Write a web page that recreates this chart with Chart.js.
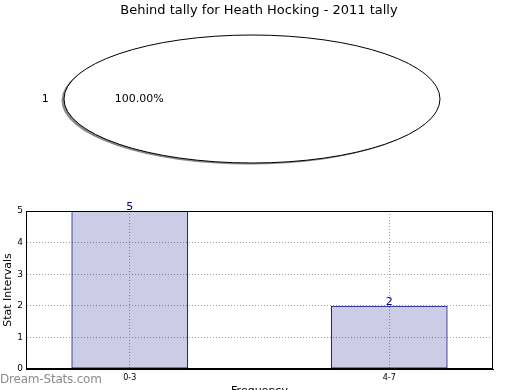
<!DOCTYPE html>
<html>
<head>
<meta charset="utf-8">
<script src="https://cdn.jsdelivr.net/npm/chart.js@4/dist/chart.umd.min.js"></script>
<style>
  html, body { margin: 0; padding: 0; background: #fff; overflow: hidden; }
  body { width: 520px; height: 390px; position: relative; font-family: "DejaVu Sans", sans-serif; }
  #title { position: absolute; left: -1px; top: 2px; width: 520px; text-align: center; font-size: 13px; color: #000; }
  #pieWrap { position: absolute; left: 0; top: 0; width: 520px; height: 180px; }
  #barWrap { position: absolute; left: 0; top: 195px; width: 520px; height: 204px; }
  #mark { position: absolute; left: 0; top: 372px; font-size: 12px; color: #8c8c8c; letter-spacing: -0.2px; }
</style>
</head>
<body>
<div id="pieWrap"><canvas id="pieChart"></canvas></div>
<div id="barWrap"><canvas id="barChart"></canvas></div>
<div id="title"></div>
<div id="mark">Dream-Stats.com</div>
<script>
const chartTitle = 'Behind tally for Heath Hocking - 2011 tally';
const pieLabels = ['1'];
const pieValues = [1];

const barLabels = ['0-3', '4-7'];
const barValues = [5, 2];
const yTicks = [0, 1, 2, 3, 4, 5];

const font = '"DejaVu Sans", sans-serif';
const stretch = 188 / 64; // matplotlib's pie is squashed into an ellipse

document.getElementById('title').textContent = chartTitle;

// draw the pie as an ellipse with a shadow, plus its labels
const ellipsePie = {
    id: 'ellipsePie',
    beforeDatasetsDraw(chart) {
        const arc = chart.getDatasetMeta(0).data[0];
        const ctx = chart.ctx;
        const r = arc.outerRadius;
        ctx.save();
        ctx.fillStyle = '#8a8a8a';
        ctx.beginPath();
        ctx.ellipse(arc.x - 2.5, arc.y + 1.5, r * stretch, r, 0, 0, Math.PI * 2);
        ctx.fill();
        ctx.translate(arc.x, arc.y);
        ctx.scale(stretch, 1);
        ctx.translate(-arc.x, -arc.y);
    },
    afterDatasetsDraw(chart) {
        const ctx = chart.ctx;
        ctx.restore();
        const arc = chart.getDatasetMeta(0).data[0];
        const r = arc.outerRadius;
        ctx.save();
        ctx.strokeStyle = '#000';
        ctx.lineWidth = 1;
        ctx.beginPath();
        ctx.ellipse(arc.x, arc.y, r * stretch, r, 0, 0, Math.PI * 2);
        ctx.stroke();

        const total = pieValues.reduce((a, b) => a + b, 0);
        ctx.fillStyle = '#000';
        ctx.font = '11px ' + font;
        ctx.textAlign = 'center';
        ctx.textBaseline = 'middle';
        chart.getDatasetMeta(0).data.forEach((el, i) => {
            const mid = (el.startAngle + el.endAngle) / 2;
            const dx = Math.cos(mid), dy = Math.sin(mid);
            ctx.fillText(pieLabels[i], el.x + dx * r * stretch * 1.1, el.y + dy * r * 1.1);
            const pct = (pieValues[i] / total * 100).toFixed(2) + '%';
            ctx.fillText(pct, el.x + dx * r * stretch * 0.6, el.y + dy * r * 0.6);
        });
        ctx.restore();
    }
};

new Chart(document.getElementById('pieChart'), {
    type: 'pie',
    data: {
        labels: pieLabels,
        datasets: [{
            data: pieValues,
            backgroundColor: '#ffffff',
            borderWidth: 0,
            clip: false
        }]
    },
    options: {
        responsive: true,
        maintainAspectRatio: false,
        animation: false,
        // single slice: start at 0 deg (3 o'clock) like matplotlib, label ends up on the left
        rotation: 90,
        layout: { padding: { left: 0, right: 16, top: 35, bottom: 17 } },
        plugins: {
            legend: { display: false },
            tooltip: { enabled: false }
        }
    },
    plugins: [ellipsePie]
});

// box around the plot + value labels over bars
const frameAndValues = {
    id: 'frameAndValues',
    afterDraw(chart) {
        const ctx = chart.ctx;
        const a = chart.chartArea;
        ctx.save();
        ctx.strokeStyle = '#000';
        ctx.lineWidth = 1;
        ctx.strokeRect(Math.round(a.left) + 0.5, Math.round(a.top) + 0.5,
            Math.round(a.right - a.left) - 1, Math.round(a.bottom - a.top) - 1);
        ctx.fillStyle = '#000080';
        ctx.font = '11px ' + font;
        ctx.textAlign = 'center';
        ctx.textBaseline = 'bottom';
        chart.getDatasetMeta(0).data.forEach((bar, i) => {
            ctx.fillText(String(barValues[i]), bar.x, bar.y + 2);
        });
        ctx.restore();
    }
};

new Chart(document.getElementById('barChart'), {
    type: 'bar',
    data: {
        datasets: [{
            data: barValues.map((v, i) => ({ x: i, y: v })),
            // navy at 20% alpha, so the dotted grid shows through like in matplotlib
            backgroundColor: 'rgba(0, 0, 128, 0.2)',
            borderColor: '#000080',
            borderWidth: 1,
            borderSkipped: false,
            barPercentage: 0.45,
            categoryPercentage: 1
        }]
    },
    options: {
        responsive: true,
        maintainAspectRatio: false,
        animation: false,
        layout: { padding: { left: 0, right: 27, top: 16, bottom: 0 } },
        plugins: {
            legend: { display: false },
            tooltip: { enabled: false }
        },
        scales: {
            x: {
                type: 'linear',
                offset: false,
                min: -0.4,
                max: 1.4,
                afterBuildTicks: (s) => { s.ticks = barLabels.map((_, i) => ({ value: i })); },
                afterFit: (s) => { s.height = 30; },
                ticks: {
                    callback: (v) => barLabels[v],
                    color: '#000',
                    font: { family: font, size: 8 },
                    padding: 4,
                    maxRotation: 0
                },
                grid: { color: '#a0a0a0', drawTicks: false, offset: false },
                border: { color: '#000', dash: [1, 2] },
                title: {
                    display: true,
                    text: 'Frequency',
                    color: '#000',
                    font: { family: font, size: 11 },
                    padding: { top: 0, bottom: 1 }
                }
            },
            y: {
                min: 0,
                max: 5,
                afterBuildTicks: (s) => { s.ticks = yTicks.map(v => ({ value: v })); },
                afterFit: (s) => { s.width = 26; },
                ticks: {
                    color: '#000',
                    font: { family: font, size: 9 },
                    padding: 3
                },
                grid: { color: '#a0a0a0', drawTicks: false },
                border: { color: '#000', dash: [1, 2] },
                title: {
                    display: true,
                    text: 'Stat Intervals',
                    color: '#000',
                    font: { family: font, size: 11 },
                    padding: { top: 2, bottom: 0 }
                }
            }
        }
    },
    plugins: [frameAndValues]
});
</script>
</body>
</html>
